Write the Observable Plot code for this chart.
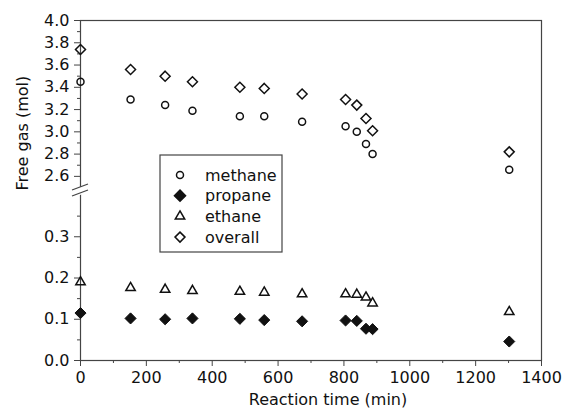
<!DOCTYPE html>
<html>
<head>
<meta charset="utf-8">
<script src="https://cdn.jsdelivr.net/npm/d3@7"></script>
<script src="https://cdn.jsdelivr.net/npm/@observablehq/plot@0.6"></script>
<style>
  html, body { margin: 0; padding: 0; background: #fff; }
  #chart { width: 563px; height: 414px; }
</style>
</head>
<body>
<div id="chart"></div>
<script>
// ---- data ----
const times   = [0, 152, 257, 340, 484, 558, 673, 805, 839, 867, 887, 1302];
const methane = [3.45, 3.29, 3.24, 3.19, 3.14, 3.14, 3.09, 3.05, 3.00, 2.89, 2.80, 2.66];
const propane = [0.115, 0.102, 0.100, 0.102, 0.101, 0.098, 0.095, 0.097, 0.096, 0.077, 0.076, 0.046];
const ethane  = [0.190, 0.176, 0.172, 0.169, 0.167, 0.165, 0.161, 0.161, 0.160, 0.153, 0.139, 0.118];
const overall = [3.74, 3.56, 3.50, 3.45, 3.40, 3.39, 3.34, 3.29, 3.24, 3.12, 3.01, 2.82];

const seriesNames = ["methane", "propane", "ethane", "overall"];
const xTicks = [0, 200, 400, 600, 800, 1000, 1200, 1400];
const xMinorTicks = [100, 300, 500, 700, 900, 1100, 1300];
const yTicks = [0.0, 0.1, 0.2, 0.3, 2.6, 2.8, 3.0, 3.2, 3.4, 3.6, 3.8, 4.0];
const yMinorTicks = [0.05, 0.15, 0.25, 0.35, 2.7, 2.9, 3.1, 3.3, 3.5, 3.7, 3.9];

const rows = times.map((t, i) => ({
  t, methane: methane[i], propane: propane[i], ethane: ethane[i], overall: overall[i]
}));

const W = 563, H = 414;
const mL = 80, mR = 22, mT = 20, mB = 54;
const yBottom = H - mB; // 360

const ink = "#111";
const axisInk = "#444";
const font = "'DejaVu Sans', 'Liberation Sans', Arial, sans-serif";
const fs = 16;

// symbols for legend
const styles = {
  methane: {symbol: d3.symbolCircle, r: 3.5, fill: "none", stroke: ink},
  propane: {symbol: d3.symbolDiamond2, r: 5, fill: ink, stroke: ink},
  ethane:  {symbol: d3.symbolTriangle2, r: 4.5, fill: "none", stroke: ink},
  overall: {symbol: d3.symbolDiamond2, r: 4.5, fill: "none", stroke: ink}
};

// axis break marks (decoration)
function breakMark(index, scales) {
  const x0 = scales.x(0);
  const yc = (scales.y(0.4) + scales.y(2.5)) / 2;
  const g = d3.create("svg:g");
  g.append("path")
    .attr("d", `M${x0 - 8},${yc - 1}L${x0 + 8},${yc - 7}L${x0 + 8},${yc + 1}L${x0 - 8},${yc + 7}Z`)
    .attr("fill", "white");
  g.append("path")
    .attr("d", `M${x0 - 8},${yc - 1}L${x0 + 8},${yc - 7}M${x0 - 8},${yc + 5}L${x0 + 8},${yc - 1}`)
    .attr("stroke", axisInk).attr("stroke-width", 1.3).attr("fill", "none");
  return g.node();
}

// boxed legend
function legendMark() {
  const g = d3.create("svg:g");
  const bx = 160, by = 155, bw = 122, bh = 97;
  g.append("rect").attr("x", bx).attr("y", by).attr("width", bw).attr("height", bh)
    .attr("fill", "white").attr("stroke", axisInk).attr("stroke-width", 1.2);
  seriesNames.forEach((name, i) => {
    const s = styles[name];
    const cy = by + 20 + i * 20.7;
    g.append("path")
      .attr("d", d3.symbol(s.symbol, Math.PI * s.r * s.r)())
      .attr("transform", `translate(${bx + 20},${cy})`)
      .attr("fill", s.fill).attr("stroke", s.stroke).attr("stroke-width", 1.5);
    g.append("text").attr("x", bx + 45).attr("y", cy).attr("dy", "0.35em")
      .attr("text-anchor", "start")
      .attr("font-size", fs).attr("fill", ink).attr("font-family", font)
      .text(name);
  });
  return g.node();
}

const chart = Plot.plot({
  width: W,
  height: H,
  marginLeft: mL, marginRight: mR, marginTop: mT, marginBottom: mB,
  style: {fontFamily: font, fontSize: fs + "px", color: ink, background: "white"},
  x: {domain: [0, 1400], axis: null},
  y: {type: "linear", domain: [0, 0.4, 2.5, 4.0], range: [yBottom, 195, 187, mT], axis: null},
  marks: [
    Plot.frame({stroke: axisInk, strokeWidth: 1.2}),
    Plot.axisX({ticks: xTicks, tickSize: 6, tickPadding: 5, tickFormat: "d", label: null, stroke: axisInk, fontSize: fs}),
    Plot.axisX({ticks: xMinorTicks, tickSize: 3, tickFormat: () => "", label: null, stroke: axisInk}),
    Plot.axisY({ticks: yTicks, tickSize: 6, tickPadding: 5, tickFormat: ".1f", label: null, stroke: axisInk, fontSize: fs}),
    Plot.axisY({ticks: yMinorTicks, tickSize: 3, tickFormat: () => "", label: null, stroke: axisInk}),
    breakMark,
    Plot.text(["Reaction time (min)"], {frameAnchor: "bottom", dy: 44, dx: 17, fontSize: fs, fill: ink}),
    Plot.text(["Free gas (mol)"], {frameAnchor: "left", dx: -58, rotate: -90, fontSize: fs, fill: ink}),
    legendMark,
    Plot.dot(rows, {x: "t", y: "methane", symbol: "circle", r: 3.5, stroke: ink, strokeWidth: 1.5, fill: "none"}),
    Plot.dot(rows, {x: "t", y: "overall", symbol: "diamond2", r: 4.5, stroke: ink, strokeWidth: 1.5, fill: "none"}),
    Plot.dot(rows, {x: "t", y: "ethane", symbol: "triangle2", r: 4.5, stroke: ink, strokeWidth: 1.5, fill: "none"}),
    Plot.dot(rows, {x: "t", y: "propane", symbol: "diamond2", r: 5, stroke: ink, strokeWidth: 1, fill: ink})
  ]
});
document.getElementById("chart").append(chart);
</script>
</body>
</html>
